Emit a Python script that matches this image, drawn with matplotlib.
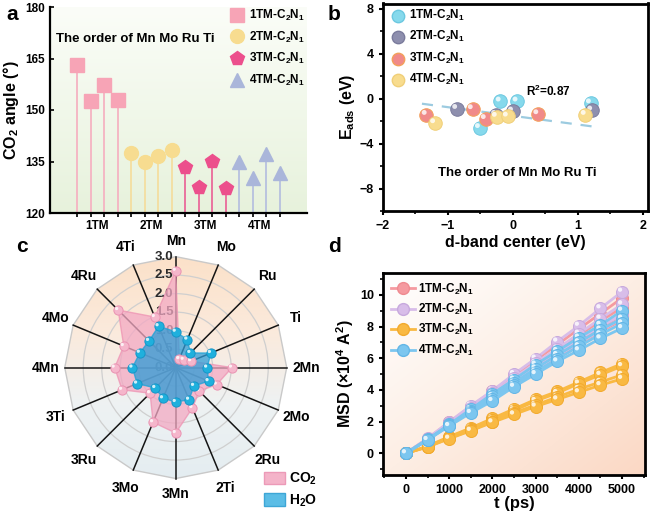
import numpy as np
import matplotlib
matplotlib.use('Agg')
import matplotlib.pyplot as plt
import matplotlib.transforms as mtransforms
from matplotlib.patches import Polygon, Circle, Patch
from matplotlib.colors import LinearSegmentedColormap
from matplotlib.ticker import MultipleLocator

plt.rcParams['font.family'] = ['Liberation Sans', 'DejaVu Sans']
plt.rcParams['font.weight'] = 'bold'
plt.rcParams['axes.labelweight'] = 'bold'
plt.rcParams['mathtext.fontset'] = 'custom'
plt.rcParams['mathtext.rm'] = 'Liberation Sans:bold'
plt.rcParams['mathtext.bf'] = 'Liberation Sans:bold'
plt.rcParams['mathtext.it'] = 'Liberation Sans:bold'
plt.rcParams['mathtext.default'] = 'bf'

# ---- data ----
groups = ['1TM-C$_2$N$_1$', '2TM-C$_2$N$_1$', '3TM-C$_2$N$_1$', '4TM-C$_2$N$_1$']

# panel a: CO2 angle
angle_1tm = [163.1, 152.6, 157.2, 153.0]
angle_2tm = [137.4, 134.9, 136.7, 138.3]
angle_3tm = [133.5, 127.5, 135.2, 127.2]
angle_4tm = [134.9, 130.3, 137.2, 131.6]
a_ticklabels = ['1TM', '2TM', '3TM', '4TM']

# panel b: Eads vs d-band center
dband_1tm = [-0.51, -0.19, 0.07, 1.20]
eads_1tm = [-2.6, -0.24, -0.24, -0.40]
dband_2tm = [-0.86, -0.26, 0.0, 1.22]
eads_2tm = [-0.90, -1.43, -1.13, -1.04]
dband_3tm = [-1.33, -0.62, -0.42, 0.39]
eads_3tm = [-1.43, -0.92, -1.80, -1.37]
dband_4tm = [-1.20, -0.25, -0.08, 1.12]
eads_4tm = [-2.17, -1.60, -1.58, -1.43]
fit_x = [-1.4, 1.26]
fit_y = [-0.45, -2.5]

# panel c: radar
radar_cats = ['Mn', 'Mo', 'Ru', 'Ti', '2Mn', '2Mo', '2Ru', '2Ti',
              '3Mn', '3Mo', '3Ru', '3Ti', '4Mn', '4Mo', '4Ru', '4Ti']
radar_co2 = [2.62, 0.25, 0.30, 0.45, 1.52, 1.20, 0.90, 1.18,
             1.77, 1.60, 0.98, 1.57, 1.65, 1.52, 2.20, 1.48]
radar_h2o = [0.97, 0.82, 0.56, 1.03, 0.85, 0.96, 0.70, 0.94,
             0.93, 0.90, 0.78, 1.13, 1.17, 1.05, 1.02, 1.21]

# panel d: MSD
t_ps = [0, 500, 1000, 1500, 2000, 2500, 3000, 3500, 4000, 4500, 5000]
msd_1tm = [
    [0, 0.92, 1.95, 2.95, 3.92, 4.90, 5.88, 6.85, 7.85, 8.82, 9.80],
    [0, 0.90, 1.90, 2.85, 3.80, 4.70, 5.60, 6.55, 7.45, 8.35, 9.20],
    [0, 0.88, 1.85, 2.75, 3.65, 4.50, 5.40, 6.25, 7.10, 7.95, 8.70],
    [0, 0.86, 1.80, 2.70, 3.55, 4.40, 5.25, 6.05, 6.90, 7.70, 8.40],
]
msd_2tm = [
    [0, 0.95, 1.98, 3.00, 3.95, 5.00, 5.98, 7.05, 8.05, 9.15, 10.20],
    [0, 0.90, 1.90, 2.85, 3.80, 4.75, 5.70, 6.60, 7.55, 8.50, 9.40],
    [0, 0.88, 1.85, 2.75, 3.70, 4.55, 5.45, 6.35, 7.20, 8.00, 8.75],
    [0, 0.86, 1.80, 2.70, 3.60, 4.45, 5.30, 6.15, 6.95, 7.75, 8.50],
]
msd_3tm = [
    [0, 0.45, 1.05, 1.60, 2.20, 2.80, 3.40, 3.90, 4.50, 5.10, 5.65],
    [0, 0.42, 1.00, 1.55, 2.12, 2.70, 3.30, 3.80, 4.40, 4.95, 5.50],
    [0, 0.40, 0.95, 1.45, 2.00, 2.55, 3.05, 3.55, 4.05, 4.50, 4.95],
    [0, 0.40, 0.92, 1.42, 1.95, 2.45, 2.95, 3.40, 3.85, 4.30, 4.70],
]
msd_4tm = [
    [0, 0.88, 1.82, 2.78, 3.75, 4.65, 5.60, 6.45, 7.30, 8.10, 9.00],
    [0, 0.86, 1.78, 2.70, 3.60, 4.45, 5.35, 6.20, 7.00, 7.80, 8.50],
    [0, 0.85, 1.75, 2.62, 3.45, 4.30, 5.15, 5.95, 6.75, 7.50, 8.20],
    [0, 0.84, 1.72, 2.55, 3.30, 4.20, 5.00, 5.80, 6.50, 7.25, 7.90],
]

W, H = 652, 517
fig = plt.figure(figsize=(W / 100, H / 100), dpi=100)


def shiny(ax, x, y, color, s, edge, zorder):
    """circle marker with a small white highlight, looks like a sphere"""
    ax.scatter(x, y, s=s, c=color, edgecolors=edge, linewidths=0.7, zorder=zorder)
    d = np.sqrt(s)
    off = mtransforms.offset_copy(ax.transData, fig=fig, x=-0.17 * d, y=0.17 * d, units='points')
    ax.scatter(x, y, s=s * 0.13, c='white', alpha=0.8, edgecolors='none',
               zorder=zorder + 0.05, transform=off)


def box(ax, lw=2.0):
    for sp in ax.spines.values():
        sp.set_linewidth(lw)
        sp.set_color('black')


# ================= panel a =================
ax_a = fig.add_axes([50 / W, 1 - 213 / H, 257 / W, 206 / H])
grad = np.linspace(0, 1, 256).reshape(-1, 1)
cmap_a = LinearSegmentedColormap.from_list('bg_a', ['#fbfdf8', '#e7f2dc'])
ax_a.imshow(grad, extent=(-1, 18, 120, 180), aspect='auto', cmap=cmap_a, origin='upper', zorder=0)

a_series = [angle_1tm, angle_2tm, angle_3tm, angle_4tm]
a_markers = ['s', 'o', 'p', '^']
a_mcolors = ['#f7a4b6', '#f7dc90', '#ec4f8c', '#aab6da']
a_scolors = ['#f5b3c2', '#f4dea0', '#ea6a9a', '#b7c1df']
a_ms = [9.5, 10, 10.5, 10.5]
for i, vals in enumerate(a_series):
    xs = np.arange(1, 5) + 4 * i
    ax_a.vlines(xs, 120, vals, color=a_scolors[i], lw=1.3, zorder=2)
    ax_a.plot(xs, vals, ls='none', marker=a_markers[i], ms=a_ms[i],
              mfc=a_mcolors[i], mec=a_mcolors[i], zorder=3, label=groups[i])

ax_a.set_xlim(-1, 18)
ax_a.set_ylim(120, 180)
ax_a.set_yticks([120, 135, 150, 165, 180])
ax_a.set_xticks([2.5, 6.5, 10.5, 14.5])
ax_a.set_xticklabels(a_ticklabels)
ax_a.set_xticks(np.arange(1, 17), minor=True)
ax_a.tick_params(axis='x', which='major', length=0, labelsize=8.5, pad=5)
ax_a.tick_params(axis='x', which='minor', length=3, width=1.2, direction='out')
ax_a.tick_params(axis='y', direction='in', length=3, width=1.2, labelsize=8.5)
for lab in ax_a.get_xticklabels() + ax_a.get_yticklabels():
    lab.set_fontweight('bold')
ax_a.spines['top'].set_visible(False)
ax_a.spines['right'].set_visible(False)
ax_a.spines['left'].set_linewidth(1.6)
ax_a.spines['bottom'].set_linewidth(1.6)
ax_a.set_ylabel('CO$_2$ angle (°)', fontsize=11.5, labelpad=3)
ax_a.text(0.022, 0.845, 'The order of Mn Mo Ru Ti', transform=ax_a.transAxes,
          fontsize=9.5, va='center', ha='left')
ax_a.legend(loc='upper right', bbox_to_anchor=(1.02, 1.03), frameon=False, fontsize=8.5,
            labelspacing=0.55, handletextpad=0.2, borderaxespad=0.2, handlelength=1.6)

# ================= panel b =================
ax_b = fig.add_axes([383 / W, 1 - 211 / H, 265 / W, 207.5 / H])
ax_b.plot(fit_x, fit_y, ls=(0, (5, 4)), color='#9ccbe0', lw=1.6, zorder=2)
b_x = [dband_1tm, dband_2tm, dband_3tm, dband_4tm]
b_y = [eads_1tm, eads_2tm, eads_3tm, eads_4tm]
b_colors = ['#86d9ec', '#8e8fae', '#f08a8a', '#f8dc8e']
b_edges = ['#6cc8e0', '#7a7b9c', '#f3a05a', '#f0cf78']
for i in range(4):
    shiny(ax_b, b_x[i], b_y[i], b_colors[i], 95, b_edges[i], 3 + 0.2 * i)
    ax_b.scatter([], [], s=80, c=b_colors[i], edgecolors=b_edges[i], label=groups[i])
ax_b.set_xlim(-2, 2.083)
ax_b.set_ylim(-10, 8.47)
ax_b.set_xticks([-2, -1, 0, 1, 2])
ax_b.set_yticks([-8, -4, 0, 4, 8])
ax_b.xaxis.set_minor_locator(MultipleLocator(0.5))
ax_b.yaxis.set_minor_locator(MultipleLocator(2))
ax_b.tick_params(which='major', direction='out', length=3, width=1.5, labelsize=9)
ax_b.tick_params(which='minor', direction='out', length=2, width=1.2)
for lab in ax_b.get_xticklabels() + ax_b.get_yticklabels():
    lab.set_fontweight('bold')
box(ax_b, 2.0)
ax_b.set_xlabel('d-band center (eV)', fontsize=11.5, labelpad=2)
ax_b.set_ylabel('E$_{ads}$ (eV)', fontsize=11.5, labelpad=2)
ax_b.text(0.625, 0.578, 'R$^2$=0.87', transform=ax_b.transAxes, fontsize=8.5, ha='center', va='center')
ax_b.text(0.07, -6.6, 'The order of Mn Mo Ru Ti', fontsize=9.5, ha='center', va='center')
ax_b.legend(loc='upper left', bbox_to_anchor=(0.0, 1.02), frameon=False, fontsize=8.5,
            labelspacing=0.55, handletextpad=0.3, borderaxespad=0.3, handlelength=1.2)

# ================= panel c (radar) =================
ax_c = fig.add_axes([0, 0, 330 / W, 277 / H])
ax_c.set_xlim(-4.75, 4.17)
ax_c.set_ylim(-4.04, 3.45)
ax_c.axis('off')

n = len(radar_cats)
theta = np.arange(n) * 2 * np.pi / n
sx, cy = np.sin(theta), np.cos(theta)

outer = Polygon(np.column_stack([3 * sx, 3 * cy]), closed=True, facecolor='none',
                edgecolor='#c9c9c9', lw=1.0, zorder=1.5)
ax_c.add_patch(outer)
cmap_c = LinearSegmentedColormap.from_list('bg_c', ['#fbe1c9', '#fbeadc', '#eef2f3', '#e4edf1'])
im = ax_c.imshow(grad, extent=(-3, 3, -3, 3), aspect='auto', cmap=cmap_c, origin='upper', zorder=0)
im.set_clip_path(outer)
for r in [0.5, 1.0, 1.5, 2.0, 2.5]:
    ax_c.add_patch(Circle((0, 0), r, facecolor='none', edgecolor='#cfcfcf', lw=0.9, zorder=1))
for k in range(n):
    ax_c.plot([0, 3 * sx[k]], [0, 3 * cy[k]], color='#151515', lw=1.1, zorder=2)
for r in [0.0, 0.5, 1.0, 1.5, 2.0, 2.5, 3.0]:
    ax_c.text(-0.07, r, f'{r:.1f}', ha='right', va='center', fontsize=9.5, color='#2a2a2a', zorder=2.5)

co2 = np.array(radar_co2)
h2o = np.array(radar_h2o)
ax_c.add_patch(Polygon(np.column_stack([co2 * sx, co2 * cy]), closed=True, facecolor='#f3a9c3',
                       alpha=0.75, edgecolor='#ee93b3', lw=1.0, zorder=3))
ax_c.add_patch(Polygon(np.column_stack([h2o * sx, h2o * cy]), closed=True, facecolor='#2f9cd6',
                       alpha=0.75, edgecolor='#1aa3d8', lw=1.0, zorder=4))
shiny(ax_c, co2 * sx, co2 * cy, '#f5b6cb', 44, '#ea93b2', 5)
shiny(ax_c, h2o * sx, h2o * cy, '#1fb0dd', 44, '#1596c8', 6)

for k, cat in enumerate(radar_cats):
    rr = 3.43 if k in (0, 8) else 3.52
    ax_c.text(rr * sx[k], rr * cy[k], cat, ha='center', va='center', fontsize=10)

ax_c.legend(handles=[Patch(facecolor='#f4b3c9', edgecolor='#ec9ab8', label='CO$_2$'),
                     Patch(facecolor='#5bbde6', edgecolor='#3ea6d6', label='H$_2$O')],
            loc='lower right', bbox_to_anchor=(1.0, -0.015), frameon=False, fontsize=10,
            handlelength=1.5, handleheight=1.0, handletextpad=0.3, labelspacing=0.35)

# ================= panel d =================
ax_d = fig.add_axes([383 / W, 1 - 475 / H, 262 / W, 201.7 / H])
gx, gy = np.meshgrid(np.linspace(0, 1, 200), np.linspace(0, 1, 200))
cmap_d = LinearSegmentedColormap.from_list('bg_d', ['#ffffff', '#fdeee4', '#fbd8c4'])
ax_d.imshow((gx + gy) / 2, extent=(-530, 5530, -1.37, 11.36), aspect='auto', cmap=cmap_d,
            origin='upper', zorder=0)
d_series = [msd_1tm, msd_2tm, msd_3tm, msd_4tm]
d_colors = ['#f59aa0', '#d8bde9', '#f9b943', '#7cc6ef']
d_edges = ['#ef8a90', '#c7a9dd', '#f2aa2e', '#63b6e6']
z = 2
for i, lines in enumerate(d_series):
    for vals in lines:
        ax_d.plot(t_ps, vals, color=d_colors[i], lw=2.0, zorder=z)
        shiny(ax_d, t_ps, vals, d_colors[i], 75, d_edges[i], z + 0.01)
        z += 0.1
    ax_d.plot([], [], color=d_colors[i], lw=2.0, marker='o', ms=8.5, mfc=d_colors[i],
              mec=d_edges[i], label=groups[i])
ax_d.set_xlim(-530, 5530)
ax_d.set_ylim(-1.37, 11.36)
ax_d.set_xticks([0, 1000, 2000, 3000, 4000, 5000])
ax_d.set_yticks([0, 2, 4, 6, 8, 10])
ax_d.xaxis.set_minor_locator(MultipleLocator(500))
ax_d.yaxis.set_minor_locator(MultipleLocator(1))
ax_d.tick_params(which='major', direction='out', length=3, width=1.5, labelsize=9)
ax_d.tick_params(which='minor', direction='out', length=2, width=1.2)
for lab in ax_d.get_xticklabels() + ax_d.get_yticklabels():
    lab.set_fontweight('bold')
box(ax_d, 2.0)
ax_d.set_xlabel('t (ps)', fontsize=12, labelpad=0)
ax_d.set_ylabel('MSD (×10$^4$ A$^2$)', fontsize=11.5, labelpad=3)
ax_d.legend(loc='upper left', bbox_to_anchor=(0.0, 1.0), frameon=False, fontsize=8.5,
            labelspacing=0.45, handletextpad=0.3, borderaxespad=0.3, handlelength=2.0)

# panel letters
fig.text(6 / W, 1 - 15 / H, 'a', fontsize=15, va='center', ha='left')
fig.text(328 / W, 1 - 15 / H, 'b', fontsize=15, va='center', ha='left')
fig.text(16 / W, 1 - 246 / H, 'c', fontsize=15, va='center', ha='left')
fig.text(328 / W, 1 - 247 / H, 'd', fontsize=15, va='center', ha='left')

fig.savefig('out.png', dpi=100)
